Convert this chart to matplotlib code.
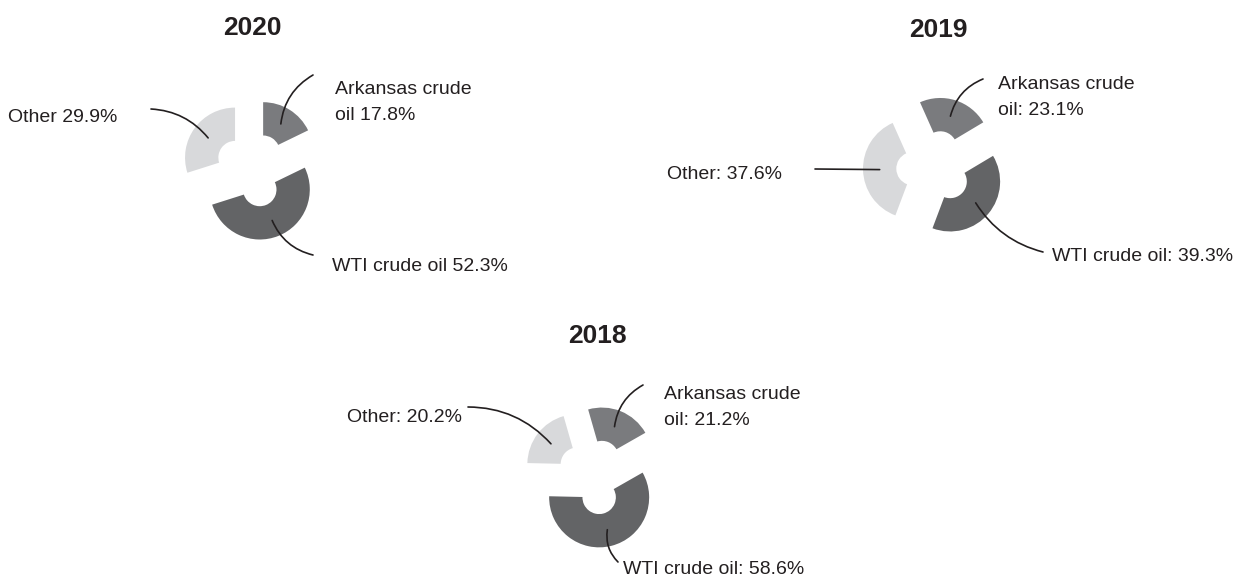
import math
import matplotlib
matplotlib.use("Agg")
from matplotlib import pyplot as plt

# shares of crude oil supply, in percent (order: Arkansas, WTI, Other)
years = ["2020", "2019", "2018"]
share_2020 = [17.8, 52.3, 29.9]
share_2019 = [23.1, 39.3, 37.6]
share_2018 = [21.2, 58.6, 20.2]
names = ["Arkansas crude\noil", "WTI crude oil", "Other"]
separators = {"2020": " ", "2019": ": ", "2018": ": "}

colors = ["#7a7b7e", "#636466", "#d8d9db"]
ink = "#231f20"
fonts = ["Liberation Sans Narrow", "Liberation Sans", "DejaVu Sans"]

W, H = 1234, 582

# layout per chart (pixel coords, y measured up from the bottom)
# text entries: (x, baseline y of last line, horizontal alignment)
layout = {
    "2020": dict(center=(252, 412), start=90, title=(252, 547),
                 text=[(335, 462, "left"), (332, 311, "left"), (117, 460, "right")],
                 line=[(313, 507), (313, 327), (151, 473)],
                 rad=[0.25, -0.25, -0.22]),
    "2019": dict(center=(934, 414), start=114, title=(938, 545),
                 text=[(998, 467, "left"), (1052, 321, "left"), (782, 403, "right")],
                 line=[(983, 503), (1043, 330), (815, 413)],
                 rad=[0.25, -0.2, 0.0]),
    "2018": dict(center=(594, 105), start=106, title=(597, 239),
                 text=[(664, 157, "left"), (623, 8, "left"), (462, 160, "right")],
                 line=[(643, 197), (618, 20), (468, 175)],
                 rad=[0.25, -0.25, -0.22]),
}
shares = {"2020": share_2020, "2019": share_2019, "2018": share_2018}

radius = 50
ring = 33.3
offset = 21

fig = plt.figure(figsize=(W / 100, H / 100), dpi=100)
ax = fig.add_axes([0, 0, 1, 1])

for year in years:
    lay = layout[year]
    vals = shares[year]
    wedges, _ = ax.pie(vals, colors=colors, radius=radius, center=lay["center"],
                       startangle=lay["start"], counterclock=False,
                       explode=[offset] * len(vals),
                       wedgeprops=dict(width=ring, edgecolor="none"))
    ax.text(lay["title"][0], lay["title"][1], year, ha="center", va="baseline",
            fontsize=19, fontweight="bold", color=ink, family=fonts)
    for i, w in enumerate(wedges):
        mid = math.radians((w.theta1 + w.theta2) / 2)
        rm = w.r - w.width / 2
        anchor = (w.center[0] + rm * math.cos(mid), w.center[1] + rm * math.sin(mid))
        ax.annotate("", xy=anchor, xytext=lay["line"][i],
                    arrowprops=dict(arrowstyle="-", color=ink, lw=1.2,
                                    shrinkA=0, shrinkB=0,
                                    connectionstyle="arc3,rad=%s" % lay["rad"][i]))
        label = "%s%s%.1f%%" % (names[i], separators[year], vals[i])
        tx, ty, align = lay["text"][i]
        ax.text(tx, ty, label, ha=align, va="baseline",
                fontsize=14, color=ink, family=fonts, linespacing=1.7)

ax.set_xlim(0, W)
ax.set_ylim(0, H)
ax.set_aspect("auto")
ax.axis("off")
fig.savefig("out.png", dpi=100)
